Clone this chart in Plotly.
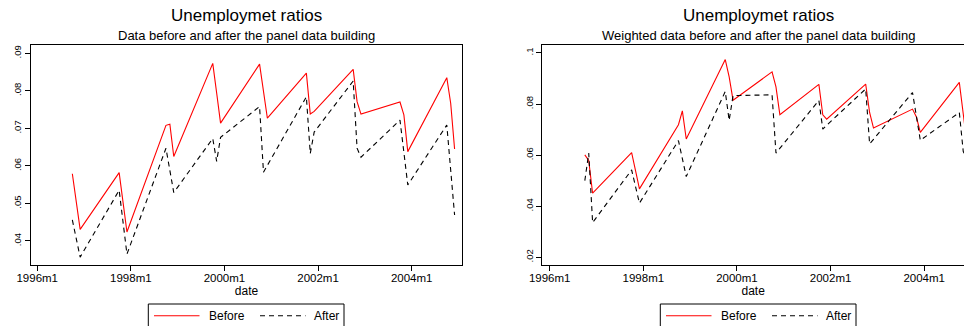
import plotly.graph_objects as go

# Observation months (Stata %tm style labels)
months = [
    "1996m10", "1996m11", "1996m12",
    "1997m10", "1997m11", "1997m12",
    "1998m10", "1998m11", "1998m12",
    "1999m10", "1999m11", "1999m12",
    "2000m10", "2000m11", "2000m12",
    "2001m10", "2001m11", "2001m12",
    "2002m10", "2002m11", "2002m12",
    "2003m10", "2003m11", "2003m12",
    "2004m10", "2004m11", "2004m12",
]

# Unweighted unemployment ratios
raw_before = [
    0.0579, 0.0505, 0.0431,
    0.0582, 0.0503, 0.0424,
    0.0708, 0.0711, 0.0625,
    0.0873, 0.0794, 0.0714,
    0.0871, 0.0799, 0.0727,
    0.0847, 0.0738, 0.0745,
    0.0857, 0.0771, 0.0738,
    0.0770, 0.0736, 0.0638,
    0.0835, 0.0767, 0.0645,
]
raw_after = [
    0.0456, 0.0406, 0.0357,
    0.0535, 0.0450, 0.0365,
    0.0647, 0.0588, 0.0529,
    0.0673, 0.0612, 0.0676,
    0.0758, 0.0583, 0.0601,
    0.0784, 0.0633, 0.0690,
    0.0826, 0.0647, 0.0623,
    0.0722, 0.0636, 0.0549,
    0.0709, 0.0590, 0.0469,
]

# Weighted unemployment ratios
wtd_before = [
    0.0601, 0.0579, 0.0451,
    0.0610, 0.0539, 0.0468,
    0.0719, 0.0773, 0.0663,
    0.0974, 0.0906, 0.0815,
    0.0926, 0.0867, 0.0758,
    0.0877, 0.0758, 0.0741,
    0.0878, 0.0767, 0.0706,
    0.0780, 0.0749, 0.0689,
    0.0885, 0.0755, 0.0640,
]
wtd_after = [
    0.0500, 0.0608, 0.0336,
    0.0542, 0.0477, 0.0412,
    0.0657, 0.0587, 0.0516,
    0.0849, 0.0736, 0.0833,
    0.0836, 0.0608, 0.0627,
    0.0814, 0.0702, 0.0717,
    0.0859, 0.0644, 0.0662,
    0.0845, 0.0752, 0.0658,
    0.0767, 0.0615, 0.0580,
]

x_tick_labels = ["1996m1", "1998m1", "2000m1", "2002m1", "2004m1"]
raw_y_ticks = [0.04, 0.05, 0.06, 0.07, 0.08, 0.09]
raw_y_labels = [".04", ".05", ".06", ".07", ".08", ".09"]
wtd_y_ticks = [0.02, 0.04, 0.06, 0.08, 0.10]
wtd_y_labels = [".02", ".04", ".06", ".08", ".1"]

titles = ["Unemploymet ratios", "Unemploymet ratios"]
subtitles = [
    "Data before and after the panel data building",
    "Weighted data before and after the panel data building",
]
series_names = ["Before", "After"]


def tm(label):
    """Convert a 'YYYYmM' label into a Stata monthly index."""
    year, month = label.split("m")
    return (int(year) - 1960) * 12 + int(month) - 1


xs = [tm(m) for m in months]
x_ticks = [tm(m) for m in x_tick_labels]

FONT = "Liberation Sans, Arial, sans-serif"
W, H = 964, 326
RED = "#ff0000"
BLACK = "#000000"
DASH = "5px,4px"
styles = [dict(color=RED, width=1.1), dict(color=BLACK, width=1.1, dash=DASH)]

fig = go.Figure()

panels = [("x", "y", raw_before, raw_after), ("x2", "y2", wtd_before, wtd_after)]
for xa, ya, before, after in panels:
    for name, vals, st in zip(series_names, (before, after), styles):
        fig.add_trace(go.Scatter(
            x=xs, y=vals, mode="lines", name=name, line=st,
            xaxis=xa, yaxis=ya, showlegend=False,
        ))

y_dom = [1 - 265 / H, 1 - 45 / H]

common_x = dict(
    tickvals=x_ticks, ticktext=x_tick_labels,
    ticks="outside", ticklen=5, tickwidth=1, tickcolor=BLACK,
    showline=True, linecolor=BLACK, linewidth=1, mirror=True,
    showgrid=False, zeroline=False, automargin=False,
    ticklabelstandoff=-3,
    tickfont=dict(family=FONT, size=11.5, color=BLACK),
    title=dict(text="date", font=dict(family=FONT, size=12, color=BLACK),
               standoff=3),
)
common_y = dict(
    ticks="outside", ticklen=5, tickwidth=1, tickcolor=BLACK,
    showline=True, linecolor=BLACK, linewidth=1, automargin=False,
    showgrid=False, zeroline=False, tickangle=-90,
    tickfont=dict(family=FONT, size=9.5, color=BLACK),
)

fig.update_layout(
    width=W, height=H,
    margin=dict(l=0, r=0, t=0, b=0),
    paper_bgcolor="white", plot_bgcolor="white",
    font=dict(family=FONT, color=BLACK),
    showlegend=False,
    xaxis=dict(domain=[31 / W, 462 / W], range=[430.4, 540.9],
               anchor="y", **common_x),
    yaxis=dict(domain=y_dom, range=[0.0336, 0.0922], anchor="x",
               tickvals=raw_y_ticks, ticktext=raw_y_labels,
               mirror=True, **common_y),
    xaxis2=dict(domain=[542.3 / W, 1], range=[430.1, 538.2],
                anchor="y2", **common_x),
    yaxis2=dict(domain=y_dom, range=[0.017, 0.1031], anchor="x2",
                tickvals=wtd_y_ticks, ticktext=wtd_y_labels,
                mirror=False, **common_y),
)

# Titles and subtitles, centred over each plot region
centers = [246.5, 758.0]
for cx, t, s in zip(centers, titles, subtitles):
    fig.add_annotation(text=t, x=cx / W, y=1 - 15.5 / H, xref="paper", yref="paper",
                       xanchor="center", yanchor="middle", showarrow=False,
                       font=dict(family=FONT, size=17, color=BLACK))
    fig.add_annotation(text=s, x=cx / W, y=1 - 35.5 / H, xref="paper", yref="paper",
                       xanchor="center", yanchor="middle", showarrow=False,
                       font=dict(family=FONT, size=13, color=BLACK))

# Legend boxes below each panel (box runs off the bottom edge)
def px(v):
    return v / W


def py(v):
    return 1 - v / H


legend_left = [148.3, 660.3]
key_y = 315.7
for lx in legend_left:
    fig.add_shape(type="rect", xref="paper", yref="paper",
                  x0=px(lx), x1=px(lx + 195.7), y0=py(345), y1=py(304),
                  line=dict(color=BLACK, width=1), fillcolor="white", layer="above")
    key_offsets = [(5.7, 58.4), (111.7, 164.0)]
    for (k0, t0), name, st in zip(key_offsets, series_names, styles):
        fig.add_shape(type="line", xref="paper", yref="paper",
                      x0=px(lx + k0), x1=px(lx + k0 + 45.5),
                      y0=py(key_y), y1=py(key_y), line=st, layer="above")
        fig.add_annotation(text=name, x=px(lx + t0), y=py(key_y),
                           xref="paper", yref="paper", xanchor="left",
                           yanchor="middle", showarrow=False,
                           font=dict(family=FONT, size=12, color=BLACK))

fig.write_html("out.html")
